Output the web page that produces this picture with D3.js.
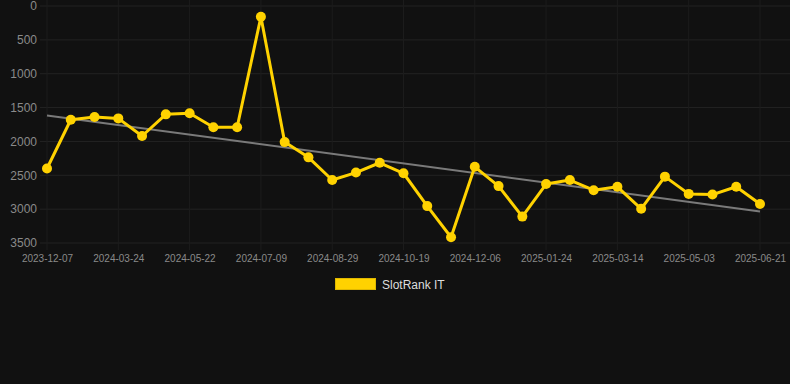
<!DOCTYPE html>
<meta charset="utf-8">
<script src="https://d3js.org/d3.v7.min.js"></script>
<style>
  html, body { margin: 0; padding: 0; background: #111111; }
  text { font-family: "Liberation Sans", Arial, sans-serif; }
</style>
<div id="chart"></div>
<script>

// dates of each sample (only every third one is shown on the axis)
var dates = ["2023-12-07", "2024-01-12", "2024-02-17", "2024-03-24", "2024-04-13", "2024-05-02",
  "2024-05-22", "2024-06-07", "2024-06-23", "2024-07-09", "2024-07-26", "2024-08-12",
  "2024-08-29", "2024-09-15", "2024-10-02", "2024-10-19", "2024-11-04", "2024-11-20",
  "2024-12-06", "2024-12-22", "2025-01-07", "2025-01-24", "2025-02-09", "2025-02-25",
  "2025-03-14", "2025-03-30", "2025-04-16", "2025-05-03", "2025-05-19", "2025-06-04",
  "2025-06-21"];

// SlotRank IT values (rank, lower is better)
var ranks = [2400, 1680, 1640, 1660, 1920, 1600, 1585, 1790, 1790, 160,
  2010, 2235, 2570, 2460, 2315, 2470, 2955, 3415, 2375, 2660,
  3110, 2630, 2570, 2720, 2670, 2995, 2520, 2775, 2785, 2670, 2925];

var yTicks = [0, 500, 1000, 1500, 2000, 2500, 3000, 3500];
var seriesName = "SlotRank IT";

var width = 790, height = 384;
var gold = "#ffd200";

var svg = d3.select("#chart")
  .append("svg")
    .attr("width", width)
    .attr("height", height)
    .style("background", "#111111");

var x = d3.scalePoint()
  .domain(dates)
  .range([47, 760]);

var y = d3.scaleLinear()
  .domain([0, 3500])
  .range([6, 243]);

// horizontal grid
svg.append("g")
  .selectAll("line")
  .data(yTicks)
  .enter()
  .append("line")
    .attr("x1", 40)
    .attr("x2", width)
    .attr("y1", function(d) { return y(d); })
    .attr("y2", function(d) { return y(d); })
    .attr("stroke", "#232323")
    .attr("stroke-width", 1);

// vertical grid at shown labels
var shown = dates.filter(function(d, i) { return i % 3 === 0; });
svg.append("g")
  .selectAll("line")
  .data(shown)
  .enter()
  .append("line")
    .attr("x1", function(d) { return x(d); })
    .attr("x2", function(d) { return x(d); })
    .attr("y1", 0)
    .attr("y2", 250)
    .attr("stroke", "#1c1c1c")
    .attr("stroke-width", 1);

// y axis
var yAxis = svg.append("g")
  .attr("transform", "translate(37,0)")
  .call(d3.axisLeft(y).tickValues(yTicks).tickFormat(d3.format("d")).tickSize(0).tickPadding(0));
yAxis.select(".domain").remove();
yAxis.selectAll("text")
  .attr("fill", "#8a8a8a")
  .style("font-size", "12px");

// x axis
var xAxis = svg.append("g")
  .attr("transform", "translate(0,251)")
  .call(d3.axisBottom(x).tickValues(shown).tickSize(0).tickPadding(4));
xAxis.select(".domain").remove();
xAxis.selectAll("text")
  .attr("fill", "#8a8a8a")
  .style("font-size", "10px");

// trend line (least squares)
var n = ranks.length;
var mx = d3.mean(ranks, function(d, i) { return i; });
var my = d3.mean(ranks);
var sxy = d3.sum(ranks, function(d, i) { return (i - mx) * (d - my); });
var sxx = d3.sum(ranks, function(d, i) { return (i - mx) * (i - mx); });
var slope = sxy / sxx;
var intercept = my - slope * mx;

svg.append("line")
  .attr("x1", x(dates[0]))
  .attr("x2", x(dates[n - 1]))
  .attr("y1", y(intercept))
  .attr("y2", y(intercept + slope * (n - 1)))
  .attr("stroke", "#7a7a7a")
  .attr("stroke-width", 2);

// series line
var line = d3.line()
  .x(function(d, i) { return x(dates[i]); })
  .y(function(d) { return y(d); });

svg.append("path")
  .datum(ranks)
  .attr("d", line)
  .attr("fill", "none")
  .attr("stroke", gold)
  .attr("stroke-width", 3)
  .attr("stroke-linejoin", "round");

svg.append("g")
  .selectAll("circle")
  .data(ranks)
  .enter()
  .append("circle")
    .attr("cx", function(d, i) { return x(dates[i]); })
    .attr("cy", function(d) { return y(d); })
    .attr("r", 5)
    .attr("fill", gold);

// legend
svg.append("rect")
  .attr("x", 335.5)
  .attr("y", 278.5)
  .attr("width", 40)
  .attr("height", 11)
  .attr("fill", gold)
  .attr("stroke", "#e0b800")
  .attr("stroke-width", 1);

svg.append("text")
  .attr("x", 382)
  .attr("y", 289)
  .attr("fill", "#dddddd")
  .style("font-size", "12px")
  .text(seriesName);

</script>
